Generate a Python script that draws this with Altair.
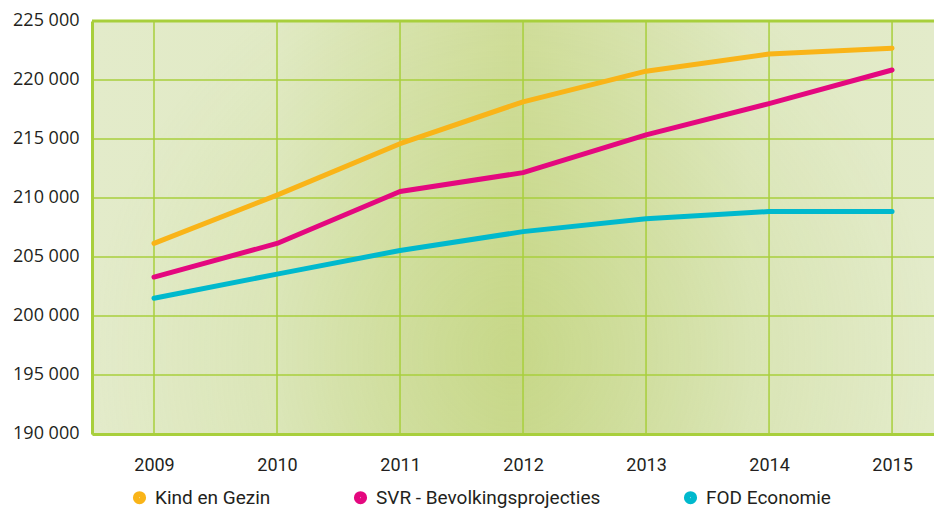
import altair as alt
import pandas as pd

# ---- data ----
years = [2009, 2010, 2011, 2012, 2013, 2014, 2015]
kind_en_gezin = [206150, 210250, 214600, 218150, 220750, 222200, 222700]
svr_bevolking = [203300, 206150, 210550, 212150, 215350, 218000, 220850]
fod_economie = [201500, 203550, 205550, 207150, 208250, 208850, 208850]
series_names = ["Kind en Gezin", "SVR - Bevolkingsprojecties", "FOD Economie"]
series_colors = ["#f9b418", "#e4087f", "#00b9cd"]
y_ticks = [190000, 195000, 200000, 205000, 210000, 215000, 220000, 225000]

rows = []
for name, vals in zip(series_names, [kind_en_gezin, svr_bevolking, fod_economie]):
    for yr, v in zip(years, vals):
        rows.append({"year": yr, "value": v, "series": name})
df = pd.DataFrame(rows)

x_domain = [2008.496, 2015.341]
y_domain = [190000, 225000]

bg_df = pd.DataFrame({"x": [x_domain[0]], "x2": [x_domain[1]],
                      "y": [y_domain[0]], "y2": [y_domain[1]]})
vgrid_df = pd.DataFrame({"year": years})
hgrid_df = pd.DataFrame({"value": y_ticks})
top_df = pd.DataFrame({"value": [y_domain[1]]})

GREEN = "#a8cf3c"
x_scale = alt.Scale(domain=x_domain, nice=False, zero=False)
y_scale = alt.Scale(domain=y_domain, nice=False, zero=False)

x_axis = alt.Axis(values=years, format="d", title=None, grid=False, ticks=False,
                  domain=True, domainColor=GREEN, domainWidth=3,
                  labelFont="Roboto", labelFontSize=18, labelColor="#231f20",
                  labelPadding=22, zindex=1)
y_axis = alt.Axis(values=y_ticks, title=None, grid=False, ticks=False,
                  domain=True, domainColor=GREEN, domainWidth=3,
                  labelFont="Open Sans", labelFontSize=18, labelColor="#231f20",
                  labelPadding=13, labelOffset=-1,
                  labelExpr="replace(format(datum.value, ',d'), ',', ' ')",
                  zindex=1)

lin = alt.LinearGradient(
    gradient="linear", x1=0, y1=0, x2=1, y2=0,
    stops=[alt.GradientStop(offset=0, color="#e3ebca"),
           alt.GradientStop(offset=0.22, color="#e1eac5"),
           alt.GradientStop(offset=0.5, color="#d1de9c"),
           alt.GradientStop(offset=0.78, color="#e0e9c3"),
           alt.GradientStop(offset=1, color="#e3ebca")])
rad = alt.RadialGradient(
    gradient="radial", x1=0.5, y1=0.65, x2=0.5, y2=0.65, r1=0, r2=0.5,
    stops=[alt.GradientStop(offset=0, color="rgba(175,200,90,0.3)"),
           alt.GradientStop(offset=1, color="rgba(175,200,90,0)")])

bg = alt.Chart(bg_df).mark_rect(color=lin, strokeWidth=0).encode(
    x=alt.X("x:Q", scale=x_scale, axis=x_axis), x2="x2",
    y=alt.Y("y:Q", scale=y_scale, axis=y_axis), y2="y2")
bg2 = alt.Chart(bg_df).mark_rect(color=rad, strokeWidth=0).encode(
    x=alt.X("x:Q", scale=x_scale, axis=x_axis), x2="x2",
    y=alt.Y("y:Q", scale=y_scale, axis=y_axis), y2="y2")

vgrid = alt.Chart(vgrid_df).mark_rule(color=GREEN, strokeWidth=1.5).encode(
    x=alt.X("year:Q", scale=x_scale, axis=x_axis))
hgrid = alt.Chart(hgrid_df).mark_rule(color=GREEN, strokeWidth=1.5).encode(
    y=alt.Y("value:Q", scale=y_scale, axis=y_axis))
top = alt.Chart(top_df).mark_rule(color=GREEN, strokeWidth=3).encode(
    y=alt.Y("value:Q", scale=y_scale, axis=y_axis))

lines = alt.Chart(df).mark_line(strokeWidth=5, strokeCap="round", strokeJoin="round").encode(
    x=alt.X("year:Q", scale=x_scale, axis=x_axis),
    y=alt.Y("value:Q", scale=y_scale, axis=y_axis),
    color=alt.Color("series:N",
                    scale=alt.Scale(domain=series_names, range=series_colors),
                    sort=series_names,
                    legend=alt.Legend(title=None, orient="none", direction="horizontal",
                                      legendX=38, legendY=467,
                                      symbolType="circle", symbolSize=38,
                                      symbolStrokeWidth=7, symbolOpacity=1,
                                      labelFont="Roboto", labelFontSize=19,
                                      labelColor="#231f20", labelOffset=6,
                                      labelLimit=400,
                                      columnPadding=72, padding=0)),
)

chart = alt.layer(bg, bg2, vgrid, hgrid, top, lines).properties(
    width=842, height=413,
    autosize=alt.AutoSizeParams(type="none"),
    padding={"left": 84, "top": 13, "right": 0, "bottom": 76},
).configure_view(stroke=None)

chart.save("out.html", embed_options={"renderer": "svg", "actions": False})
